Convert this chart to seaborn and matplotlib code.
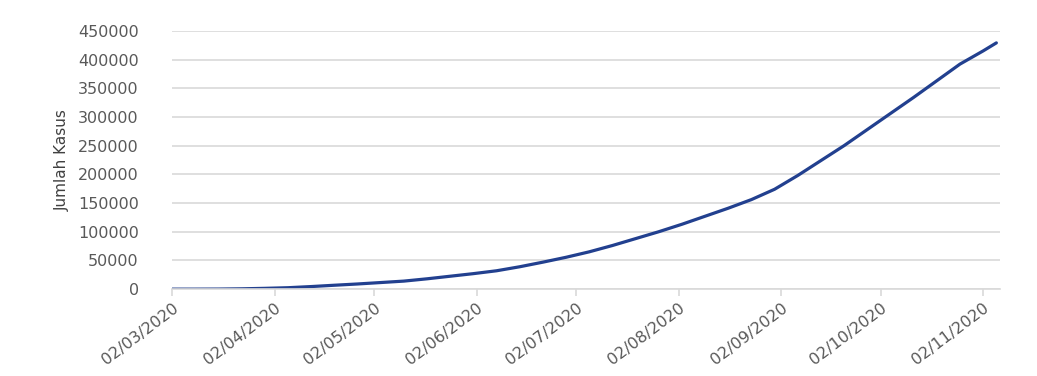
import matplotlib
matplotlib.use("Agg")
import matplotlib.pyplot as plt
import matplotlib.dates as mdates
import seaborn as sns
import pandas as pd

dates = ["2020-03-02", "2020-03-09", "2020-03-16", "2020-03-23", "2020-03-30",
         "2020-04-06", "2020-04-13", "2020-04-20", "2020-04-27", "2020-05-04",
         "2020-05-11", "2020-05-18", "2020-05-25", "2020-06-01", "2020-06-08",
         "2020-06-15", "2020-06-22", "2020-06-29", "2020-07-06", "2020-07-13",
         "2020-07-20", "2020-07-27", "2020-08-03", "2020-08-10", "2020-08-17",
         "2020-08-24", "2020-08-31", "2020-09-07", "2020-09-14", "2020-09-21",
         "2020-09-28", "2020-10-05", "2020-10-12", "2020-10-19", "2020-10-26",
         "2020-11-02", "2020-11-06"]
cases = [2, 20, 130, 580, 1400, 2500, 4500, 6800, 9000, 11500,
         14000, 18000, 22500, 27000, 32000, 39000, 47000, 55500, 65000, 76000,
         88000, 100000, 113000, 127000, 141000, 156000, 174000, 198000, 224000, 250000,
         278000, 306000, 334000, 363000, 392000, 415000, 429000]
tick_dates = ["2020-03-02", "2020-04-02", "2020-05-02", "2020-06-02", "2020-07-02",
              "2020-08-02", "2020-09-02", "2020-10-02", "2020-11-02"]
y_ticks = [0, 50000, 100000, 150000, 200000, 250000, 300000, 350000, 400000, 450000]

df = pd.DataFrame({"Tanggal": pd.to_datetime(dates), "Kasus": cases})

sns.set_theme(style="white")
plt.rcParams["font.family"] = ["DejaVu Sans"]

fig = plt.figure(figsize=(10.37, 3.76), dpi=100)
ax = fig.add_axes([0.166, 0.231, 0.798, 0.687])

sns.lineplot(data=df, x="Tanggal", y="Kasus", ax=ax, color="#22408f", linewidth=2.3)

ax.set_ylim(0, 450000)
ax.set_xlim(pd.Timestamp("2020-03-02"), pd.Timestamp("2020-11-07"))
ax.set_yticks(y_ticks)
ax.set_yticklabels([str(v) for v in y_ticks])
ax.set_xticks(pd.to_datetime(tick_dates))
ax.xaxis.set_major_formatter(mdates.DateFormatter("%d/%m/%Y"))
ax.yaxis.grid(True, color="#d9d9d9", linewidth=1.2)
ax.xaxis.grid(False)
for s in ["top", "right", "left"]:
    ax.spines[s].set_visible(False)
ax.spines["bottom"].set_color("#d9d9d9")
ax.spines["bottom"].set_linewidth(1.2)
ax.tick_params(axis="x", bottom=True, length=5, color="#d9d9d9", width=1.2,
               labelsize=11.5, labelcolor="#595959", pad=3)
ax.tick_params(axis="y", left=False, labelsize=11.5, labelcolor="#595959", pad=18)
for lbl in ax.get_xticklabels():
    lbl.set_rotation(37)
    lbl.set_ha("right")
    lbl.set_rotation_mode("anchor")
ax.set_xlabel("")
ax.set_ylabel("Jumlah Kasus", fontsize=11, color="#404040", labelpad=6)

fig.savefig("out.png", dpi=100, facecolor="white")
